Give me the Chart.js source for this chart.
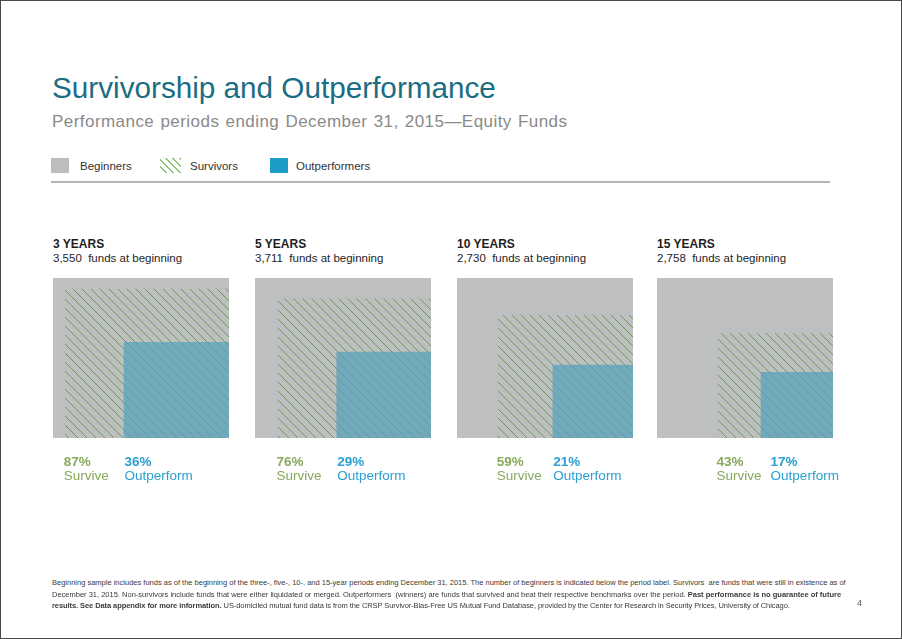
<!DOCTYPE html>
<html>
<head>
<meta charset="utf-8">
<script src="https://cdn.jsdelivr.net/npm/chart.js@4.4.1/dist/chart.umd.min.js"></script>
<style>
  body { margin: 0; background: #fff; font-family: "Liberation Sans", Arial, sans-serif; }
  #page { position: relative; width: 902px; height: 639px; overflow: hidden; background: #fff; }
  .frame { position: absolute; left: 0; top: 0; right: 0; bottom: 0; border: 1px solid #4a4a4a; }
  .t { position: absolute; white-space: nowrap; line-height: 1; }
  .title { left: 52px; top: 73px; font-size: 29.7px; color: #1b6d84; }
  .sub { left: 52px; top: 113px; font-size: 17px; color: #8a8a8a; letter-spacing: 0.45px; word-spacing: 1px; }
  .box { position: absolute; top: 158px; height: 15px; }
  .leg { top: 161px; font-size: 11.5px; color: #333; }
  .rule { position: absolute; left: 51px; top: 181px; width: 779px; height: 2px; background: #b4b4b4; }
  .head { font-size: 12px; font-weight: bold; color: #1e1e1e; }
  .count { font-size: 11.5px; color: #1e1e1e; }
  canvas.panel { position: absolute; top: 278px; }
  .note { left: 52px; font-size: 7.5px; color: #3a3a3a; }
  .note b { font-weight: bold; }
  .pg { left: 857px; top: 599px; font-size: 9px; color: #555; }
</style>
</head>
<body>
<div id="page">
  <div class="t title">Survivorship and Outperformance</div>
  <div class="t sub">Performance periods ending December 31, 2015—Equity Funds</div>

  <div class="box" style="left:51px;width:18px;background:#bdbdbf;"></div>
  <div class="t leg" style="left:80px;">Beginners</div>
  <div class="box" style="left:160px;width:21px;background:repeating-linear-gradient(45deg,transparent 0 4px,#8cc474 4px 5px);"></div>
  <div class="t leg" style="left:190px;">Survivors</div>
  <div class="box" style="left:270px;width:18px;background:#1c9cc6;"></div>
  <div class="t leg" style="left:296px;">Outperformers</div>
  <div class="rule"></div>

  <div id="panels"></div>

  <div class="t note" style="top:579px;">Beginning sample includes funds as of the beginning of the three-, five-, 10-, and 15-year periods ending December 31, 2015. The number of beginners is indicated below the period label. Survivors&nbsp; are funds that were still in existence as of</div>
  <div class="t note" style="top:590.5px;">December 31, 2015. Non-survivors include funds that were either liquidated or merged. Outperformers&nbsp; (winners) are funds that survived and beat their respective benchmarks over the period. <b>Past performance is no guarantee of future</b></div>
  <div class="t note" style="top:602px;letter-spacing:-0.08px;"><b>results. See Data appendix for more information.</b> US-domiciled mutual fund data is from the CRSP Survivor-Bias-Free US Mutual Fund Database, provided by the Center for Research in Security Prices, University of Chicago.</div>
  <div class="t pg">4</div>
  <div class="frame"></div>
</div>

<script>
// data
const periods = ["3 YEARS", "5 YEARS", "10 YEARS", "15 YEARS"];
const beginners = [3550, 3711, 2730, 2758];
const survivePct = [87, 76, 59, 43];
const outperformPct = [36, 29, 21, 17];

// layout of the four panels
const panelLeft = [53, 255, 457, 657];
const boxW = 176, boxH = 160;

const gray = "#bebfc1";
const green = "#87aa5c";
const blue = "#2a9fd1";

// diagonal hatch used for the survivors square
function makeHatch() {
  const c = document.createElement("canvas");
  c.width = 9; c.height = 9;
  const g = c.getContext("2d");
  g.strokeStyle = "#6a9f50";
  g.lineWidth = 1;
  g.beginPath();
  g.moveTo(-1, -1); g.lineTo(10, 10);
  g.moveTo(-1, 8); g.lineTo(1, 10);
  g.moveTo(8, -1); g.lineTo(10, 1);
  g.stroke();
  return g.createPattern(c, "repeat");
}

// draws the "87% / Survive" labels under each panel
const labelPlugin = {
  id: "pctLabels",
  afterDraw(chart, args, opts) {
    const ctx = chart.ctx;
    const x = chart.scales.x;
    const bottom = chart.chartArea.bottom;
    const font = "13.5px 'Liberation Sans', Arial, sans-serif";
    const bold = "bold 13.5px 'Liberation Sans', Arial, sans-serif";
    const sx = x.getPixelForValue(Math.sqrt(opts.survive / 100)) - 1;
    ctx.save();
    ctx.textBaseline = "alphabetic";
    ctx.textAlign = "left";
    ctx.font = font;
    const sw = ctx.measureText("Survive").width;
    let ox = x.getPixelForValue(Math.sqrt(opts.outperform / 100)) + 1;
    ox = Math.max(ox, sx + sw + 9);

    ctx.fillStyle = green;
    ctx.font = bold;
    ctx.fillText(opts.survive + "%", sx, bottom + 27.5);
    ctx.font = font;
    ctx.fillText("Survive", sx, bottom + 41.5);

    ctx.fillStyle = blue;
    ctx.font = bold;
    ctx.fillText(opts.outperform + "%", ox, bottom + 27.5);
    ctx.font = font;
    ctx.fillText("Outperform", ox, bottom + 41.5);
    ctx.restore();
  }
};

const hatch = makeHatch();
const holder = document.querySelector("#panels");

periods.forEach((p, i) => {
  const left = panelLeft[i];

  const h = document.createElement("div");
  h.className = "t head";
  h.style.left = left + "px";
  h.style.top = "238px";
  h.textContent = p;
  holder.appendChild(h);

  const n = document.createElement("div");
  n.className = "t count";
  n.style.left = left + "px";
  n.style.top = "253px";
  n.style.whiteSpace = "pre";
  n.textContent = beginners[i].toLocaleString("en-US") + "  funds at beginning";
  holder.appendChild(n);

  const cv = document.createElement("canvas");
  cv.className = "panel";
  cv.width = 200; cv.height = 222;
  cv.style.left = left + "px";
  holder.appendChild(cv);

  // side of each square is sqrt(share), so the area matches the percentage
  const s = Math.sqrt(survivePct[i] / 100);
  const o = Math.sqrt(outperformPct[i] / 100);

  new Chart(cv, {
    type: "line",
    data: {
      datasets: [
        { label: "Outperformers", data: [{ x: 0, y: o }, { x: o, y: o }], backgroundColor: "rgba(84,161,186,0.72)" },
        { label: "Survivors", data: [{ x: 0, y: s }, { x: s, y: s }], backgroundColor: hatch },
        { label: "Beginners", data: [{ x: 0, y: 1 }, { x: 1, y: 1 }], backgroundColor: gray }
      ].map(d => Object.assign(d, { fill: "origin", borderWidth: 0, pointRadius: 0, tension: 0 }))
    },
    options: {
      responsive: false,
      animation: false,
      events: [],
      layout: { padding: { left: 0, top: 0, right: 200 - boxW, bottom: 222 - boxH } },
      scales: {
        x: { type: "linear", min: 0, max: 1, reverse: true, display: false },
        y: { type: "linear", min: 0, max: 1, display: false }
      },
      plugins: {
        legend: { display: false },
        tooltip: { enabled: false },
        pctLabels: { survive: survivePct[i], outperform: outperformPct[i] }
      }
    },
    plugins: [labelPlugin]
  });
});
</script>
</body>
</html>
